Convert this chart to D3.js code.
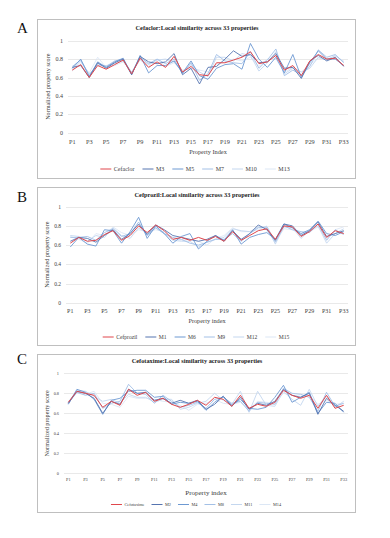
<!DOCTYPE html>
<html>
<head>
<meta charset="utf-8">
<script src="https://cdn.jsdelivr.net/npm/d3@7"></script>
<style>
  body { margin: 0; background: #fff; }
  svg { display: block; }
  text { font-family: "Liberation Serif", "DejaVu Serif", serif; fill: #404040; }
</style>
</head>
<body>
<svg id="chart" width="390" height="538"></svg>
<script>
// property labels along the x axis
var props = ["P1","P2","P3","P4","P5","P6","P7","P8","P9","P10","P11","P12","P13","P14","P15","P16","P17",
             "P18","P19","P20","P21","P22","P23","P24","P25","P26","P27","P28","P29","P30","P31","P32","P33"];
var yTicks = [0, 0.2, 0.4, 0.6, 0.8, 1];

// panel A - Cefaclor
var namesA = ["Cefaclor", "M3", "M5", "M7", "M10", "M13"];
var cefaclor = [0.68,0.74,0.60,0.73,0.69,0.74,0.79,0.64,0.81,0.71,0.77,0.71,0.83,0.66,0.72,0.63,0.62,0.76,0.76,0.79,0.82,0.88,0.75,0.77,0.84,0.68,0.73,0.62,0.78,0.85,0.80,0.81,0.73];
var m3  = [0.71,0.73,0.60,0.76,0.70,0.76,0.80,0.63,0.83,0.77,0.75,0.77,0.86,0.63,0.70,0.53,0.71,0.72,0.80,0.89,0.83,0.85,0.76,0.77,0.86,0.70,0.71,0.59,0.78,0.84,0.78,0.82,0.72];
var m5  = [0.70,0.80,0.61,0.77,0.71,0.77,0.81,0.63,0.84,0.65,0.73,0.73,0.78,0.65,0.78,0.62,0.58,0.70,0.74,0.75,0.69,0.97,0.80,0.71,0.82,0.65,0.85,0.60,0.76,0.89,0.80,0.80,0.73];
var m7  = [0.72,0.79,0.62,0.75,0.72,0.78,0.80,0.65,0.82,0.75,0.80,0.75,0.80,0.64,0.76,0.57,0.64,0.85,0.78,0.76,0.75,0.88,0.70,0.79,0.91,0.62,0.68,0.63,0.72,0.90,0.82,0.85,0.76];
var m10 = [0.69,0.78,0.64,0.73,0.73,0.75,0.78,0.66,0.80,0.74,0.79,0.80,0.77,0.66,0.74,0.66,0.61,0.82,0.82,0.78,0.86,0.84,0.67,0.76,0.88,0.64,0.70,0.66,0.70,0.82,0.79,0.84,0.77];
var m13 = [0.67,0.76,0.65,0.82,0.71,0.73,0.77,0.65,0.79,0.72,0.80,0.72,0.76,0.68,0.70,0.68,0.66,0.74,0.77,0.80,0.78,0.82,0.72,0.80,0.80,0.66,0.71,0.66,0.74,0.81,0.80,0.83,0.78];

// panel B - Cefprozil
var namesB = ["Cefprozil", "M1", "M6", "M9", "M12", "M15"];
var cefprozil = [0.62,0.68,0.64,0.65,0.71,0.75,0.65,0.70,0.80,0.73,0.81,0.75,0.66,0.68,0.65,0.68,0.65,0.69,0.64,0.74,0.65,0.70,0.75,0.77,0.66,0.80,0.79,0.69,0.74,0.82,0.68,0.75,0.72];
var m1  = [0.64,0.68,0.67,0.63,0.70,0.76,0.66,0.72,0.82,0.71,0.81,0.76,0.70,0.68,0.66,0.64,0.66,0.70,0.64,0.75,0.66,0.72,0.81,0.76,0.65,0.82,0.80,0.70,0.75,0.84,0.69,0.72,0.75];
var m6  = [0.58,0.68,0.61,0.59,0.76,0.75,0.62,0.74,0.89,0.67,0.80,0.72,0.62,0.69,0.72,0.56,0.64,0.70,0.65,0.76,0.61,0.68,0.71,0.73,0.66,0.82,0.78,0.72,0.76,0.85,0.72,0.70,0.74];
var m9  = [0.68,0.68,0.69,0.65,0.73,0.77,0.69,0.72,0.84,0.70,0.78,0.72,0.68,0.66,0.62,0.60,0.63,0.66,0.66,0.72,0.64,0.72,0.78,0.79,0.63,0.80,0.76,0.74,0.73,0.82,0.65,0.76,0.71];
var m12 = [0.70,0.69,0.64,0.70,0.68,0.78,0.70,0.67,0.78,0.72,0.78,0.72,0.65,0.64,0.64,0.58,0.63,0.66,0.68,0.77,0.75,0.74,0.79,0.78,0.61,0.79,0.78,0.67,0.75,0.80,0.62,0.72,0.77];
var m15 = [0.69,0.66,0.62,0.72,0.70,0.79,0.73,0.70,0.76,0.74,0.76,0.74,0.66,0.65,0.66,0.64,0.60,0.67,0.70,0.78,0.74,0.74,0.76,0.80,0.64,0.77,0.76,0.71,0.74,0.79,0.66,0.76,0.79];

// panel C - Cefotaxime
var namesC = ["Cefotaxime", "M2", "M4", "M8", "M11", "M14"];
var cefotaxime = [0.71,0.82,0.80,0.78,0.66,0.72,0.68,0.84,0.78,0.81,0.72,0.75,0.69,0.66,0.69,0.73,0.68,0.76,0.74,0.67,0.78,0.65,0.69,0.67,0.71,0.83,0.78,0.75,0.78,0.65,0.78,0.65,0.68];
var m2  = [0.70,0.82,0.80,0.75,0.60,0.72,0.69,0.84,0.80,0.81,0.73,0.75,0.70,0.73,0.70,0.73,0.64,0.69,0.77,0.67,0.76,0.64,0.70,0.68,0.72,0.84,0.78,0.76,0.80,0.59,0.75,0.68,0.62];
var m4  = [0.69,0.84,0.81,0.74,0.59,0.73,0.75,0.82,0.83,0.83,0.76,0.77,0.69,0.71,0.70,0.72,0.63,0.71,0.77,0.68,0.74,0.65,0.64,0.66,0.76,0.88,0.71,0.76,0.81,0.60,0.71,0.70,0.61];
var m8  = [0.70,0.81,0.78,0.80,0.65,0.70,0.72,0.89,0.80,0.79,0.70,0.78,0.72,0.66,0.68,0.71,0.65,0.74,0.76,0.70,0.72,0.62,0.71,0.70,0.69,0.85,0.80,0.79,0.76,0.62,0.81,0.67,0.70];
var m11 = [0.71,0.83,0.82,0.77,0.72,0.74,0.70,0.79,0.76,0.76,0.71,0.74,0.74,0.64,0.66,0.70,0.72,0.80,0.73,0.69,0.82,0.61,0.82,0.68,0.67,0.82,0.74,0.68,0.84,0.67,0.78,0.66,0.72];
var m14 = [0.72,0.80,0.79,0.82,0.70,0.69,0.66,0.77,0.75,0.75,0.74,0.72,0.71,0.68,0.63,0.69,0.70,0.74,0.70,0.69,0.71,0.64,0.72,0.71,0.70,0.80,0.78,0.77,0.78,0.69,0.73,0.69,0.70];

var colors = ["#e0474c", "#5574b0", "#6d99d2", "#a3c0e6", "#c4d7ef", "#dce7f5"];

var svg = d3.select("#chart");

function drawPanel(p) {
    var g = svg.append("g");

    // outer frame
    g.append("rect")
        .attr("x", p.box[0] + 0.5).attr("y", p.box[1] + 0.5)
        .attr("width", p.box[2]).attr("height", p.box[3])
        .attr("fill", "none").attr("stroke", "#bfbfbf").attr("stroke-width", 1);

    // panel letter
    g.append("text").attr("x", 17).attr("y", p.letterY)
        .attr("font-size", 15).style("fill", "#111").text(p.letter);

    g.append("text").attr("x", 197).attr("y", p.titleY)
        .attr("text-anchor", "middle").attr("font-size", 6.3).attr("font-weight", "bold")
        .style("fill", "#222").text(p.title);

    var x = d3.scalePoint().domain(props).range([p.left, p.right]).padding(0.5);
    var y = d3.scaleLinear().domain([0, 1]).range([p.bottom, p.top]);

    // gridlines
    g.selectAll(".grid").data(yTicks).join("line")
        .attr("x1", p.left).attr("x2", p.right)
        .attr("y1", function(d) { return Math.round(y(d)) + 0.5; })
        .attr("y2", function(d) { return Math.round(y(d)) + 0.5; })
        .attr("stroke", "#e3e3e3").attr("stroke-width", 0.8);

    g.selectAll(".ytick").data(yTicks).join("text")
        .attr("x", p.left - 5).attr("y", function(d) { return y(d) + 2; })
        .attr("text-anchor", "end").attr("font-size", p.tickSize)
        .text(function(d) { return d; });

    // odd labels only, like the original
    g.selectAll(".xtick").data(props.filter(function(d, i) { return i % 2 === 0; })).join("text")
        .attr("x", function(d) { return x(d); }).attr("y", p.xLabY)
        .attr("text-anchor", "middle").attr("font-size", p.xTickSize)
        .text(function(d) { return d; });

    g.append("text").attr("x", (p.left + p.right) / 2).attr("y", p.xTitleY)
        .attr("text-anchor", "middle").attr("font-size", p.xTitleSize).text(p.xTitle);

    g.append("text")
        .attr("transform", "translate(" + p.yTitleX + "," + ((p.top + p.bottom) / 2) + ") rotate(-90)")
        .attr("text-anchor", "middle").attr("font-size", 6.2).text("Normalized property score");

    var line = d3.line()
        .x(function(d, i) { return x(props[i]); })
        .y(function(d) { return y(d); });

    // draw the pale ones first so the red sits on top
    var order = [5, 4, 3, 2, 1, 0];
    order.forEach(function(k) {
        g.append("path").datum(p.series[k])
            .attr("d", line).attr("fill", "none")
            .attr("stroke", colors[k]).attr("stroke-width", k === 0 ? 1 : 0.9)
            .attr("stroke-linejoin", "round");
    });

    // legend
    var lg = g.append("g");
    var cx = 0;
    p.names.forEach(function(n, k) {
        lg.append("line").attr("x1", cx).attr("x2", cx + p.legLine)
            .attr("y1", 0).attr("y2", 0)
            .attr("stroke", colors[k]).attr("stroke-width", 1);
        var t = lg.append("text").attr("x", cx + p.legLine + 2.5).attr("y", p.legSize * 0.35)
            .attr("font-size", p.legSize).text(n);
        cx += p.legLine + 2.5 + t.node().getComputedTextLength() + p.legGap;
    });
    cx -= p.legGap;
    lg.attr("transform", "translate(" + (p.legCenter - cx / 2) + "," + p.legY + ")");
}

drawPanel({
    letter: "A", letterY: 33, box: [37, 19, 318, 159],
    title: "Cefaclor:Local similarity across 33 properties", titleY: 30,
    left: 68, right: 348, top: 40.7, bottom: 132.7,
    tickSize: 6, xTickSize: 6.3, xLabY: 144, xTitle: "Property Index", xTitleY: 154, xTitleSize: 6.3,
    yTitleX: 50, series: [cefaclor, m3, m5, m7, m10, m13], names: namesA,
    legY: 169, legCenter: 195, legLine: 11, legGap: 8, legSize: 6
});

drawPanel({
    letter: "B", letterY: 202, box: [37, 187, 318, 158],
    title: "Cefprozil:Local similarity across 33 properties", titleY: 197,
    left: 66, right: 348, top: 206.7, bottom: 302.7,
    tickSize: 5.5, xTickSize: 6, xLabY: 313, xTitle: "Property index", xTitleY: 323, xTitleSize: 6.3,
    yTitleX: 49, series: [cefprozil, m1, m6, m9, m12, m15], names: namesB,
    legY: 337, legCenter: 196, legLine: 11, legGap: 8, legSize: 5.6
});

drawPanel({
    letter: "C", letterY: 364, box: [37, 354, 318, 158],
    title: "Cefotaxime:Local similarity across 33 properties", titleY: 363,
    left: 64, right: 348, top: 373.3, bottom: 473.3,
    tickSize: 4.3, xTickSize: 4.3, xLabY: 481, xTitle: "Property index", xTitleY: 494.5, xTitleSize: 7,
    yTitleX: 49, series: [cefotaxime, m2, m4, m8, m11, m14], names: namesC,
    legY: 504.5, legCenter: 196, legLine: 11, legGap: 7, legSize: 4.3
});
</script>
</body>
</html>
